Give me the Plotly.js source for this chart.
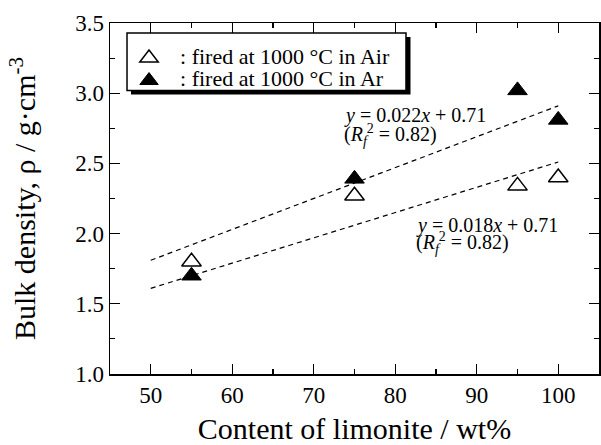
<!DOCTYPE html>
<html>
<head>
<meta charset="utf-8">
<script src="https://cdn.plot.ly/plotly-3.0.1.min.js"></script>
<style>html,body{margin:0;padding:0;background:#fff;}#chart{width:601px;height:445px;}</style>
</head>
<body>
<div id="chart"></div>
<script>
// Limonite content (wt%)
const limonite = [55, 75, 95, 100];
// Bulk density fired at 1000 °C in Air (open triangles)
const densityAir = [1.80, 2.27, 2.34, 2.40];
// Bulk density fired at 1000 °C in Ar (filled triangles)
const densityAr = [1.70, 2.39, 3.02, 2.81];
// Fit lines y = a x + b
const fitX = [50, 100];
const slopeAr = 0.022, interceptAr = 0.71;
const slopeAir = 0.018, interceptAir = 0.71;
const xTicks = [50, 60, 70, 80, 90, 100];
const yTicks = [1.0, 1.5, 2.0, 2.5, 3.0, 3.5];
const legendNames = [': fired at 1000 °C in Air', ': fired at 1000 °C in Ar'];

const FONT = '"Liberation Serif", "Times New Roman", Times, serif';
const fitArY = fitX.map(x => slopeAr * x + interceptAr);
const fitAirY = fitX.map(x => slopeAir * x + interceptAir);
const big = s => '<span style="font-size:22px">\u00a0\u00a0' + s + '</span>';

const traces = [
  {x: fitX, y: fitArY, mode: 'lines', showlegend: false, hoverinfo: 'skip',
   line: {color: '#000', width: 1.2, dash: '5px,4px'}},
  {x: fitX, y: fitAirY, mode: 'lines', showlegend: false, hoverinfo: 'skip',
   line: {color: '#000', width: 1.2, dash: '5px,4px'}},
  {x: limonite, y: densityAir, mode: 'markers', name: big(legendNames[0]),
   marker: {symbol: 'triangle-up', size: 17, color: '#fff', line: {color: '#000', width: 1.5}}},
  {x: limonite, y: densityAr, mode: 'markers', name: big(legendNames[1]),
   marker: {symbol: 'triangle-up', size: 17, color: '#000', line: {color: '#000', width: 1}}}
];

const layout = {
  width: 601, height: 445,
  margin: {l: 110, r: 2, t: 23, b: 71, pad: 0},
  paper_bgcolor: '#fff', plot_bgcolor: '#fff',
  font: {family: FONT, color: '#000', size: 23},
  showlegend: true,
  legend: {x: 0.0389, y: 0.9465, xanchor: 'left', yanchor: 'top',
    bgcolor: 'rgba(0,0,0,0)', bordercolor: 'rgba(0,0,0,0)', borderwidth: 0,
    font: {family: FONT, size: 15, color: '#000'}, tracegroupgap: 0},
  shapes: [
    // legend drop shadow and frame
    {type: 'rect', xref: 'paper', yref: 'paper', layer: 'above',
     x0: 0.0429, x1: 0.6145, y0: 0.7963, y1: 0.9601, fillcolor: '#000', line: {width: 0}},
    {type: 'rect', xref: 'paper', yref: 'paper', layer: 'above',
     x0: 0.0348, x1: 0.6053, y0: 0.8077, y1: 0.9715, fillcolor: '#fff', line: {color: '#000', width: 1.5}}
  ],
  xaxis: {
    range: [45, 105], tickvals: xTicks, ticktext: xTicks.map(String),
    ticks: 'inside', ticklen: 10, tickwidth: 1.2, tickcolor: '#000',
    minor: {dtick: 5, tick0: 0, ticks: 'inside', ticklen: 5, tickwidth: 1.2, tickcolor: '#000'},
    showline: true, linecolor: '#000', linewidth: 1.5, mirror: 'ticks',
    showgrid: false, zeroline: false,
    tickfont: {family: FONT, size: 23, color: '#000'},
    title: {text: 'Content of limonite / wt%', font: {family: FONT, size: 30, color: '#000'}, standoff: 23}
  },
  yaxis: {
    range: [1.0, 3.5], tickvals: yTicks, ticktext: yTicks.map(v => v.toFixed(1)),
    ticks: 'inside', ticklen: 10, tickwidth: 1.2, tickcolor: '#000',
    minor: {dtick: 0.25, tick0: 0, ticks: 'inside', ticklen: 5, tickwidth: 1.2, tickcolor: '#000'},
    showline: true, linecolor: '#000', linewidth: 1.5, mirror: 'ticks',
    showgrid: false, zeroline: false,
    tickfont: {family: FONT, size: 23, color: '#000'},
    title: {text: 'Bulk density, ρ / g·cm<sup>-3</sup>', font: {family: FONT, size: 30, color: '#000'}, standoff: 30}
  },
  yaxis2: {
    overlaying: 'y', anchor: 'x', side: 'left', range: [1.0, 3.5], tickvals: yTicks,
    ticks: 'outside', ticklen: 4, tickwidth: 1.2, tickcolor: '#000',
    showticklabels: false, showline: false, showgrid: false, zeroline: false
  },
  annotations: [
    {x: 73.5, y: 2.84, xref: 'x', yref: 'y', xanchor: 'left', yanchor: 'middle', showarrow: false,
     text: '<i>y</i> = 0.022<i>x</i> + 0.71', font: {family: FONT, size: 20, color: '#000'}},
    {x: 73.5, y: 2.70, xref: 'x', yref: 'y', xanchor: 'left', yanchor: 'middle', showarrow: false,
     text: '(<i>R</i><sub><i>f</i></sub><sup>2</sup> = 0.82)', font: {family: FONT, size: 20, color: '#000'}},
    {x: 82.3, y: 2.06, xref: 'x', yref: 'y', xanchor: 'left', yanchor: 'middle', showarrow: false,
     text: '<i>y</i> = 0.018<i>x</i> + 0.71', font: {family: FONT, size: 20, color: '#000'}},
    {x: 82.3, y: 1.93, xref: 'x', yref: 'y', xanchor: 'left', yanchor: 'middle', showarrow: false,
     text: '(<i>R</i><sub><i>f</i></sub><sup>2</sup> = 0.82)', font: {family: FONT, size: 20, color: '#000'}}
  ]
};

Plotly.newPlot('chart', traces, layout, {displayModeBar: false, staticPlot: true});
</script>
</body>
</html>
